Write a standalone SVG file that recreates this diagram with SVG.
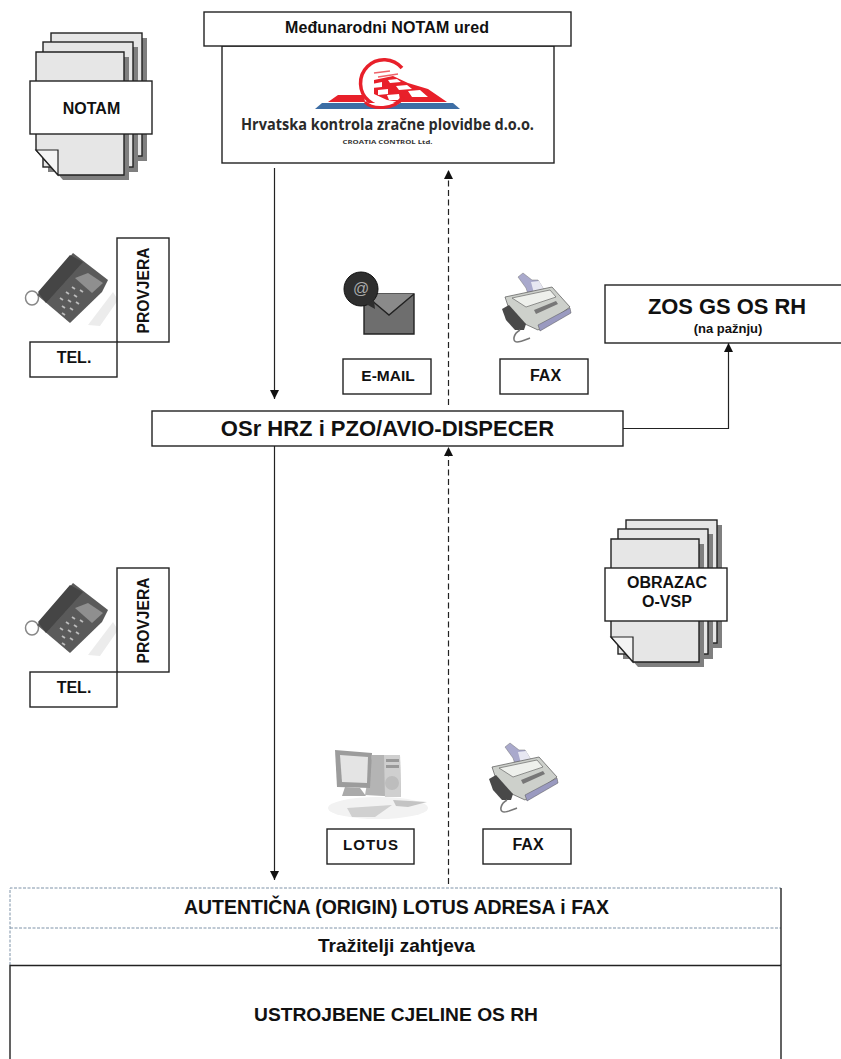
<svg xmlns="http://www.w3.org/2000/svg" xmlns:xlink="http://www.w3.org/1999/xlink" width="841" height="1059" viewBox="0 0 841 1059">
<style>
text{font-family:"Liberation Sans",Arial,sans-serif;font-weight:bold;fill:#111;text-anchor:middle}
.box{fill:#fff;stroke:#222;stroke-width:1.4}
.page{fill:#e6e6e6;stroke:#222;stroke-width:1.4}
.shadow{fill:#7f7f7f}
.conn{fill:none;stroke:#222;stroke-width:1.2}
.dash{stroke-dasharray:6 3.5}
.dotted{fill:none;stroke:#7f93a8;stroke-width:1;stroke-dasharray:3 1.5}
.solid{fill:none;stroke:#222;stroke-width:1.4}
.soft{filter:url(#soft)}
</style>
<defs>
<filter id="soft" x="-10%" y="-10%" width="120%" height="120%"><feGaussianBlur stdDeviation="0.6"/></filter>
<marker id="arrow" markerUnits="userSpaceOnUse" markerWidth="10" markerHeight="10" refX="9" refY="4.500" orient="auto"><path d="M0 0L9 4.500L0 9Z" fill="#111"/></marker>
<g id="stack">
<rect class="shadow" x="20" y="-14" width="91" height="123"/>
<rect class="page" x="15" y="-19" width="91" height="123"/>
<rect class="shadow" x="12" y="-5" width="90" height="125"/>
<rect class="page" x="7" y="-10" width="90" height="125"/>
<path class="shadow" d="M5 5H93V128H27L5 103Z"/>
<path class="page" d="M0 0H88V123H22L0 98Z"/>
<path d="M0 98H22V123Z" fill="#f4f4f4" stroke="#222" stroke-width="1.2"/>
</g>
<g id="phone" class="soft">
<path d="M113 292L118 300L100 326L88 325Z" fill="#ececec"/>
<ellipse cx="32" cy="298" rx="6.500" ry="7" fill="none" stroke="#888" stroke-width="1.500"/>
<path d="M37 295L73 253L108 280L102 292L70 323Z" fill="#5a5a5a"/>
<path d="M38 292L70 255L83 262L55 293L46 303Z" fill="#444"/>
<path d="M75 278L88 273L103 283L92 293Z" fill="#8f8f8f"/>
<path d="M60 298l3 2M66 292l3 2M72 287l3 2M62 306l3 2M68 300l3 2M74 295l3 2M80 290l3 2M62 313l3 2M70 308l3 2M76 302l3 2" stroke="#bdbdbd" stroke-width="1.800"/>
</g>
<g id="fax" class="soft">
<path d="M518 277L523 273L532 280L538 280L546 293L530 300L526 288Z" fill="#a9a9cc" stroke="#777" stroke-width=".5"/>
<path d="M531 282L539 281L546 293L535 297Z" fill="#e7e7f2"/>
<path d="M505 297L552 287L570 307L538 330L512 318Z" fill="#cdd0cb" stroke="#555" stroke-width=".7"/>
<path d="M512 298L550 290L556 297L526 307Z" fill="#eef0ec" stroke="#555" stroke-width=".6"/>
<path d="M534 310L556 301L558 304L536 314Z" fill="#777"/>
<path d="M538 325L570 308L571 313L540 331Z" fill="#9a9ac0" stroke="#555" stroke-width=".5"/>
<path d="M502 309L509 305L526 324L524 330L515 330L506 320Z" fill="#4a4a4a"/>
<path d="M520 330C513 334 512 342 517 342C521 342 525 340 530 338" fill="none" stroke="#777" stroke-width="1.600"/>
</g>
</defs>

<g id="connectors">
<path class="conn" d="M274.500 168V399" marker-end="url(#arrow)"/>
<path class="conn dash" d="M448.500 405V170" marker-end="url(#arrow)"/>
<path class="conn" d="M274.500 446V880" marker-end="url(#arrow)"/>
<path class="conn dash" d="M448.500 884V447" marker-end="url(#arrow)"/>
<path class="conn" d="M623 428.500H728.500V343" marker-end="url(#arrow)"/>
</g>

<g id="node-logo">
<rect class="box" x="222" y="46" width="332" height="117"/>
<path d="M328 102L338 95H364L365 102Z" fill="#e8202a"/>
<path d="M374 80L393 76L408 83L428 89L447 102H400L387 100L374 94Z" fill="#e8202a"/>
<path d="M372 84L382 82L382 87L372 88ZM388 80L397 79L401 82L390 83ZM378 90L388 89L388 94L378 95ZM396 86L407 85L412 89L399 90ZM387 95L399 94L400 100L389 100ZM408 91L420 90L428 97L412 97Z" fill="#fff"/>
<path d="M374 73L390 71M378 77L398 74" stroke="#e8202a" stroke-width="1.500" opacity=".7"/>
<path d="M402 68A23.500 23.500 0 1 0 403 97" fill="none" stroke="#e8202a" stroke-width="3.500"/>
<path d="M315 109L322 103H453L460 109Z" fill="#3d6ea5"/>
<path d="M366 103C372 109 392 109 400 103Z" fill="#fff"/>
<path d="M365 102C372 110 394 110 403 98" fill="none" stroke="#e8202a" stroke-width="3"/>
<text x="387.500" y="130" font-size="15.500" style="font-family:'Open Sans','Liberation Sans',sans-serif;fill:#2a2a2a" textLength="293" lengthAdjust="spacingAndGlyphs">Hrvatska kontrola zračne plovidbe d.o.o.</text>
<text x="387.500" y="144" font-size="5.500" style="font-family:'Open Sans','Liberation Sans',sans-serif;fill:#333" textLength="90" lengthAdjust="spacingAndGlyphs">CROATIA CONTROL  Ltd.</text>
</g>
<g id="node-notam-ured">
<rect class="box" x="204" y="12" width="367" height="34"/>
<text x="387" y="33" font-size="16" textLength="204" lengthAdjust="spacing">Međunarodni NOTAM ured</text>
</g>

<g id="node-notam">
<use xlink:href="#stack" href="#stack" transform="translate(36,52)"/>
<rect class="box" x="30" y="81" width="122" height="53"/>
<text x="91.500" y="114" font-size="16">NOTAM</text>
</g>

<g id="node-provjera-1">
<use xlink:href="#phone" href="#phone"/>
<rect class="box" x="117" y="238" width="52" height="104"/>
<text transform="translate(149,290.500) rotate(-90)" font-size="15.600">PROVJERA</text>
<rect class="box" x="30" y="342" width="87" height="35"/>
<text x="74" y="363" font-size="16">TEL.</text>
</g>

<g id="node-email">
<path d="M364 294H414V334H364Z" fill="#6e6e6e" stroke="#222" stroke-width="1.400"/>
<path d="M364 294L389 315L414 294" fill="#8a8a8a" stroke="#222" stroke-width="1.400"/>
<circle cx="361" cy="289" r="17" fill="#2e2e2e" stroke="#111"/>
<path d="M366 304L375 309L374 300Z" fill="#2e2e2e"/>
<text x="361" y="294" font-size="16" style="fill:#aaa;font-weight:normal">@</text>
<rect class="box" x="343" y="359" width="88" height="35"/>
<text x="388" y="381" font-size="15.500">E-MAIL</text>
</g>

<g id="node-fax-1">
<use xlink:href="#fax" href="#fax"/>
<rect class="box" x="500" y="359" width="88" height="35"/>
<text x="545.500" y="381" font-size="16">FAX</text>
</g>

<g id="node-zos">
<rect class="box" x="605" y="285" width="237" height="58"/>
<text x="727" y="314" font-size="21.900">ZOS GS OS RH</text>
<text x="728" y="333" font-size="13">(na pažnju)</text>
</g>

<g id="node-osr">
<rect class="box" x="152" y="411" width="471" height="35"/>
<text x="387.500" y="436" font-size="22">OSr HRZ i PZO/AVIO-DISPECER</text>
</g>

<g id="node-obrazac">
<use xlink:href="#stack" href="#stack" transform="translate(611,539)"/>
<rect class="box" x="605" y="568" width="122" height="53"/>
<text x="667" y="588" font-size="16">OBRAZAC</text>
<text x="667" y="607" font-size="16">O-VSP</text>
</g>

<g id="node-provjera-2">
<use xlink:href="#phone" href="#phone" transform="translate(0,330)"/>
<rect class="box" x="117" y="568" width="52" height="104"/>
<text transform="translate(149,620.500) rotate(-90)" font-size="15.600">PROVJERA</text>
<rect class="box" x="30" y="672" width="87" height="35"/>
<text x="74" y="693" font-size="16">TEL.</text>
</g>

<g id="node-lotus">
<g class="soft">
<ellipse cx="378" cy="808" rx="50" ry="11" fill="#f2f2f2"/>
<path d="M372 755H400L401 797L365 795Z" fill="#b4b4b4"/>
<path d="M384 755H400L401 797H385Z" fill="#cfcfcf"/>
<circle cx="392" cy="783" r="7" fill="#bdbdbd"/>
<path d="M386 759H399V762H386ZM386 765H399V768H386Z" fill="#999"/>
<path d="M335 750L372 753L370 788L337 787Z" fill="#9c9c9c"/>
<path d="M340 755L368 757L367 783L342 782Z" fill="#e4e4e4"/>
<path d="M345 787L342 796H366L360 788Z" fill="#aaa"/>
<path d="M347 808L392 805L375 817H352Z" fill="#d0d0d0"/>
<path d="M393 800L427 802L408 807L396 806Z" fill="#c4c4c4"/>
</g>
<rect class="box" x="327" y="829" width="87" height="35"/>
<text x="371" y="850" font-size="15" style="letter-spacing:1px">LOTUS</text>
</g>

<g id="node-fax-2">
<use xlink:href="#fax" href="#fax" transform="translate(-13,470)"/>
<rect class="box" x="483" y="829" width="88" height="35"/>
<text x="528" y="850" font-size="16">FAX</text>
</g>

<g id="node-origin">
<path class="dotted" d="M10 965V888H781"/>
<path class="dotted" d="M10 928H781"/>
<path class="solid" d="M781 888V928"/>
<text x="396.500" y="914" font-size="19.500" textLength="425" lengthAdjust="spacingAndGlyphs">AUTENTIČNA (ORIGIN) LOTUS ADRESA i FAX</text>
</g>
<g id="node-trazitelji">
<path class="solid" d="M781 928V965"/>
<text x="396.500" y="952" font-size="18.500" textLength="157" lengthAdjust="spacingAndGlyphs">Tražitelji zahtjeva</text>
</g>
<g id="node-ustrojbene">
<path class="solid" d="M10 1059V965.500H781V1059" stroke-width="1.800"/>
<text x="396" y="1021" font-size="19" textLength="284" lengthAdjust="spacingAndGlyphs">USTROJBENE  CJELINE OS RH</text>
</g>
</svg>
